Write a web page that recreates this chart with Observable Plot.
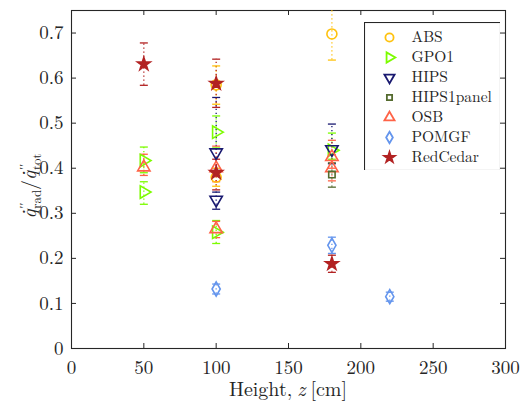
<!DOCTYPE html>
<html>
<head>
<meta charset="utf-8">
<script src="https://cdn.jsdelivr.net/npm/d3@7"></script>
<script src="https://cdn.jsdelivr.net/npm/@observablehq/plot@0.6"></script>
<style>
  html, body { margin: 0; padding: 0; background: #fff; }
  #wrap { position: relative; width: 528px; height: 403px; }
  #legend { position: absolute; left: 364px; top: 22px; }
</style>
</head>
<body>
<div id="wrap"><div id="chart"></div><div id="legend"></div></div>
<script>
// Series definitions
const seriesNames = ["ABS", "GPO1", "HIPS", "HIPS1panel", "OSB", "POMGF", "RedCedar"];
const seriesColors = ["#FFC20E", "#7CFC00", "#191970", "#556B2F", "#FF6347", "#6495ED", "#B22222"];
const seriesSymbols = ["circle", "triangle", "triangle", "square", "triangle", "diamond", "star"];
const seriesRotate = [0, 90, 180, 0, 0, 0, 0];
const seriesR = [5, 4.6, 4.6, 3.6, 4.6, 4.3, 4.0];
const seriesFill = ["none", "none", "none", "none", "none", "none", "#B22222"];

// Measurement points (parallel arrays)
const ptSeries = ["ABS", "ABS", "ABS",
  "GPO1", "GPO1", "GPO1", "GPO1", "GPO1",
  "HIPS", "HIPS", "HIPS",
  "HIPS1panel",
  "OSB", "OSB", "OSB", "OSB", "OSB",
  "POMGF", "POMGF", "POMGF",
  "RedCedar", "RedCedar", "RedCedar", "RedCedar"];
const ptHeight = [100, 100, 180,
  50, 50, 100, 100, 180,
  100, 100, 180,
  180,
  50, 100, 100, 180, 180,
  100, 180, 220,
  50, 100, 100, 180];
const ptValue = [0.585, 0.380, 0.698,
  0.417, 0.347, 0.480, 0.258, 0.440,
  0.435, 0.330, 0.442,
  0.386,
  0.402, 0.400, 0.265, 0.425, 0.400,
  0.132, 0.229, 0.115,
  0.631, 0.588, 0.390, 0.188];
const ptLow = [0.542, 0.360, 0.640,
  0.390, 0.320, 0.445, 0.233, 0.420,
  0.395, 0.309, 0.410,
  0.358,
  0.384, 0.370, 0.246, 0.400, 0.372,
  0.121, 0.211, 0.105,
  0.584, 0.535, 0.352, 0.169];
const ptHigh = [0.627, 0.400, 0.760,
  0.447, 0.370, 0.516, 0.284, 0.478,
  0.557, 0.347, 0.498,
  0.412,
  0.431, 0.449, 0.282, 0.462, 0.430,
  0.143, 0.247, 0.125,
  0.678, 0.642, 0.420, 0.207];

const xTicks = [0, 50, 100, 150, 200, 250, 300];
const yTicks = [0, 0.1, 0.2, 0.3, 0.4, 0.5, 0.6, 0.7];

const idx = s => seriesNames.indexOf(s);
const points = ptSeries.map((s, i) => ({
  series: s, height: ptHeight[i], value: ptValue[i], lo: ptLow[i], hi: ptHigh[i]
}));
points.sort((a, b) => idx(a.series) - idx(b.series));

const capSymbol = {
  draw(context, size) {
    const w = Math.sqrt(size / Math.PI);
    context.moveTo(-w, 0);
    context.lineTo(w, 0);
  }
};

const fontStack = '"Latin Modern Roman", "Liberation Serif", "Times New Roman"';
const axisColor = "#262626";
const W = 528, H = 403;
const mL = 71, mR = 23, mT = 10, mB = 55;
const innerW = W - mL - mR, innerH = H - mT - mB;
const tickLen = 5;

const colorOpt = {domain: seriesNames, range: seriesColors};

function forceFont(node) {
  node.style.setProperty("font-family", fontStack, "important");
  node.querySelectorAll("text, tspan").forEach(t => t.style.setProperty("font-family", fontStack, "important"));
}

const chart = Plot.plot({
  width: W, height: H,
  marginLeft: mL, marginRight: mR, marginTop: mT, marginBottom: mB,
  style: {fontSize: "18px", color: axisColor, background: "#fff"},
  x: {domain: [0, 300]},
  y: {domain: [0, 0.75]},
  r: {type: "identity"},
  color: colorOpt,
  marks: [
    Plot.tickX(xTicks, {x: d => d, insetTop: innerH - tickLen, stroke: axisColor, strokeWidth: 1}),
    Plot.tickX(xTicks, {x: d => d, insetBottom: innerH - tickLen, stroke: axisColor, strokeWidth: 1}),
    Plot.tickY(yTicks, {y: d => d, insetRight: innerW - tickLen, stroke: axisColor, strokeWidth: 1}),
    Plot.tickY(yTicks, {y: d => d, insetLeft: innerW - tickLen, stroke: axisColor, strokeWidth: 1}),
    Plot.axisX({ticks: xTicks, tickSize: 0, tickPadding: 12, label: null, fill: axisColor, fontSize: 19}),
    Plot.axisY({ticks: yTicks, tickSize: 0, tickPadding: 8, label: null, fill: axisColor, fontSize: 19, tickFormat: d => d3.format("")(d)}),
    Plot.frame({stroke: axisColor, strokeWidth: 1.1}),
    // error bars
    Plot.ruleX(points, {x: "height", y1: "lo", y2: "hi", stroke: "series", strokeWidth: 1.3, strokeDasharray: "1.2,2.8", clip: true}),
    Plot.dot(points, {x: "height", y: "lo", symbol: capSymbol, r: 4, stroke: "series", strokeWidth: 1.3, clip: true}),
    Plot.dot(points, {x: "height", y: "hi", symbol: capSymbol, r: 4, stroke: "series", strokeWidth: 1.3, clip: true}),
    // markers
    Plot.dot(points, {
      x: "height", y: "value",
      symbol: d => seriesSymbols[idx(d.series)],
      rotate: d => seriesRotate[idx(d.series)],
      r: d => seriesR[idx(d.series)],
      stroke: "series",
      fill: d => seriesFill[idx(d.series)],
      strokeWidth: 1.6
    })
  ]
});
document.getElementById("chart").append(chart);

// axis titles
const svg = d3.select(chart);
svg.append("text")
  .attr("x", mL + innerW / 2).attr("y", 396)
  .attr("text-anchor", "middle")
  .attr("font-size", 20).attr("fill", axisColor)
  .call(t => {
    t.append("tspan").text("Height,");
    t.append("tspan").attr("font-style", "italic").attr("dx", 5).text("z");
    t.append("tspan").attr("dx", 5).text("[cm]");
  });
const yl = svg.append("text")
  .attr("transform", `translate(36, 186) rotate(-90)`)
  .attr("text-anchor", "middle")
  .attr("font-size", 20).attr("fill", axisColor);
function qterm(sub) {
  yl.append("tspan").attr("font-style", "italic").text("q\u0307");
  yl.append("tspan").attr("font-size", 13).attr("dy", -8).attr("dx", 1).text("\u2032\u2032");
  yl.append("tspan").attr("font-size", 13).attr("dy", 13).attr("dx", -6).text(sub);
}
qterm("rad");
yl.append("tspan").attr("dy", -5).text("/");
qterm("tot");
forceFont(chart);

// legend
const legend = Plot.plot({
  width: 136, height: 148,
  marginLeft: 0, marginRight: 0, marginTop: 2, marginBottom: 1,
  style: {fontSize: "15.5px", color: axisColor, background: "#fff"},
  y: {type: "band", domain: seriesNames, axis: null},
  r: {type: "identity"},
  color: colorOpt,
  marks: [
    Plot.dot(seriesNames, {
      y: d => d, frameAnchor: "left", dx: 25,
      symbol: d => seriesSymbols[idx(d)],
      rotate: d => seriesRotate[idx(d)],
      r: d => seriesR[idx(d)] * 0.82,
      stroke: d => d,
      fill: d => seriesFill[idx(d)],
      strokeWidth: 1.8
    }),
    Plot.text(seriesNames, {y: d => d, text: d => d, frameAnchor: "left", dx: 47, textAnchor: "start", fill: axisColor, fontSize: 15.5}),
    Plot.frame({stroke: axisColor, strokeWidth: 1.1, insetTop: -2, insetBottom: -1})
  ]
});
document.getElementById("legend").append(legend);
forceFont(legend);
</script>
</body>
</html>
